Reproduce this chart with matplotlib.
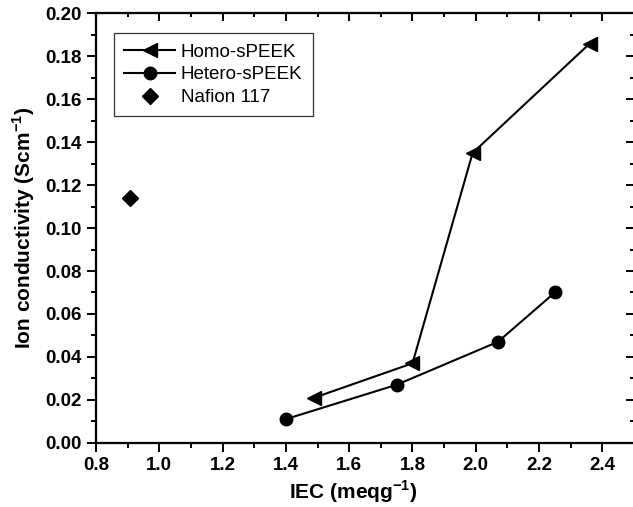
import matplotlib
matplotlib.use("Agg")
from matplotlib import pyplot as plt
from matplotlib.ticker import MultipleLocator

plt.rcParams['font.family'] = ['Liberation Sans', 'DejaVu Sans']
plt.rcParams['mathtext.fontset'] = 'custom'
plt.rcParams['mathtext.rm'] = 'Liberation Sans'
plt.rcParams['mathtext.bf'] = 'Liberation Sans:bold'

# data
homoIec = [1.49, 1.80, 1.99, 2.36]
homoCond = [0.021, 0.037, 0.135, 0.186]
heteroIec = [1.40, 1.75, 2.07, 2.25]
heteroCond = [0.011, 0.027, 0.047, 0.070]
nafionIec = [0.907]
nafionCond = [0.114]

fig = plt.figure(figsize=(6.33, 5.07), dpi=100)
ax = fig.add_axes([0.1517, 0.1268, 0.8499, 0.8466])

ax.plot(homoIec, homoCond, color='black', lw=1.5, marker='<', ms=10, label='Homo-sPEEK')
ax.plot(heteroIec, heteroCond, color='black', lw=1.5, marker='o', ms=9, label='Hetero-sPEEK')
ax.plot(nafionIec, nafionCond, color='black', lw=0, marker='D', ms=8.5, label='Nafion 117')

ax.set_xlim(0.8, 2.5)
ax.set_ylim(0.0, 0.2)

# mirrored axes for the inward ticks on top and right
axTop = ax.twiny()
axRight = ax.twinx()
axTop.set_xlim(ax.get_xlim())
axRight.set_ylim(ax.get_ylim())

for a in (ax, axTop):
    a.xaxis.set_major_locator(MultipleLocator(0.2))
    a.xaxis.set_minor_locator(MultipleLocator(0.1))
for a in (ax, axRight):
    a.yaxis.set_major_locator(MultipleLocator(0.02))
    a.yaxis.set_minor_locator(MultipleLocator(0.01))

ax.xaxis.set_major_formatter(lambda v, p: f"{v:.1f}")
ax.yaxis.set_major_formatter(lambda v, p: f"{v:.2f}")
ax.tick_params(which='both', direction='out', width=1.4)
ax.tick_params(which='major', length=6.5, labelsize=13.5, pad=4)
ax.tick_params(which='minor', length=3.5)
axTop.tick_params(axis='x', which='both', direction='in', width=1.4, labeltop=False)
axTop.tick_params(axis='x', which='major', length=5.5)
axTop.tick_params(axis='x', which='minor', length=3)
axRight.tick_params(axis='y', which='both', direction='in', width=1.4, labelright=False)
axRight.tick_params(axis='y', which='major', length=5.5)
axRight.tick_params(axis='y', which='minor', length=3)
for lab in ax.get_xticklabels() + ax.get_yticklabels():
    lab.set_fontweight('bold')
for a in (ax, axTop, axRight):
    for s in a.spines.values():
        s.set_linewidth(1.5)

ax.set_xlabel('IEC (meqg$^{\\mathbf{-1}}$)', fontsize=15, fontweight='bold')
ax.xaxis.set_label_coords(0.478, -0.084)
ax.set_ylabel('Ion conductivity (Scm$^{\\mathbf{-1}}$)', fontsize=15, fontweight='bold', labelpad=6)

leg = ax.legend(loc='upper left', bbox_to_anchor=(0.0335, 0.954), fontsize=13.5,
                frameon=True, fancybox=False, edgecolor='black', handlelength=2.7,
                handletextpad=0.3, borderpad=0.55, labelspacing=0.3, borderaxespad=0)
leg.get_frame().set_linewidth(0.9)
leg.set_zorder(5)

fig.savefig('out.png', dpi=100)
